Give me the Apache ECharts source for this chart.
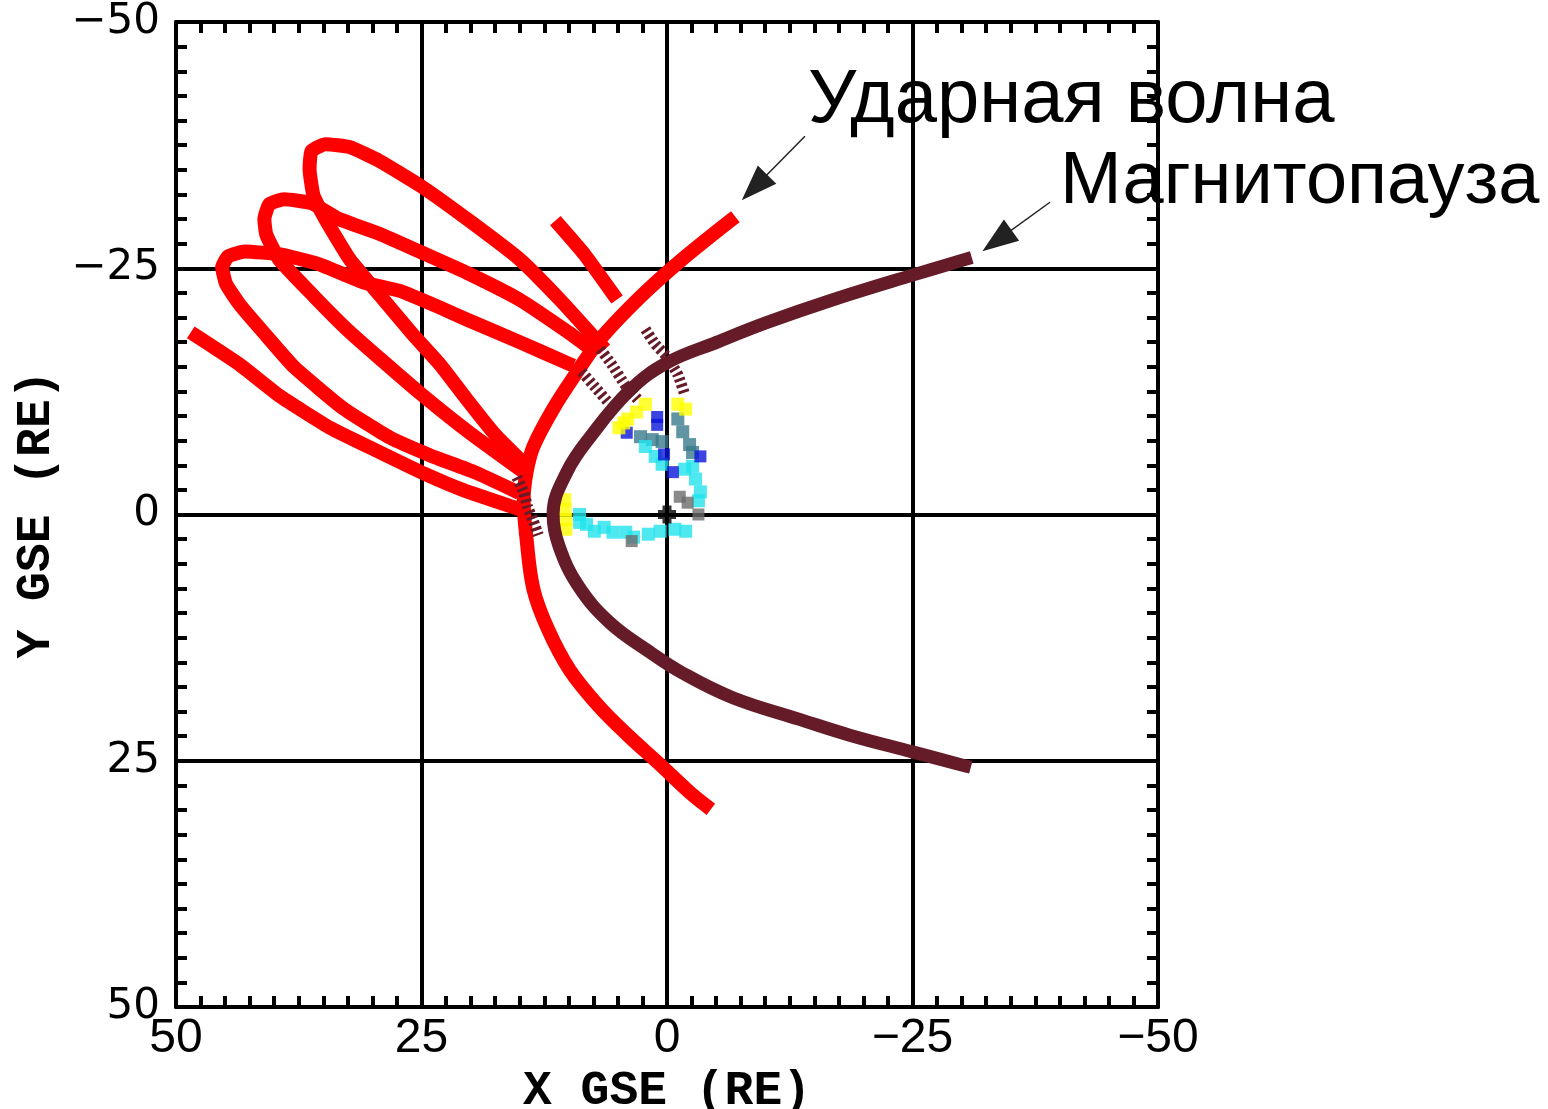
<!DOCTYPE html>
<html>
<head>
<meta charset="utf-8">
<script src="https://cdn.jsdelivr.net/npm/echarts@6/dist/echarts.min.js"></script>
<style>
  html, body { margin: 0; padding: 0; background: #ffffff; overflow: hidden; }
  #chart { position: absolute; left: 0; top: 0; width: 1548px; height: 1109px; }
</style>
</head>
<body>
<div id="chart"></div>
<script>
// Axis ticks (GSE, Earth radii)
const axisTicks = [-50, -25, 0, 25, 50];

// Model boundaries, [X, Y] in RE
const bowShock = [
  [-6.4, -29.8], [-1.3, -25.7], [2.7, -22.1], [6.8, -17.8],
  [9.2, -14.4], [11.6, -10.7], [13.6, -6.9], [14.3, -4.3], [14.6, -1.5],
  [14.3, 2.5], [13.6, 7.6], [12.1, 11.7], [9.9, 15.8], [7.0, 19.4],
  [4.0, 22.4], [0.7, 25.4], [-2.3, 28.2], [-3.9, 29.5]
];
const magnetopause = [
  [-30.4, -25.9], [-25.0, -24.3], [-16.9, -21.8], [-10.2, -19.5], [-5.1, -17.5],
  [0.0, -15.4], [3.8, -12.6], [7.8, -7.9], [10.2, -4.3],
  [11.6, 0.0], [11.0, 3.2], [9.0, 7.3], [5.8, 11.0], [1.7, 14.0],
  [-1.6, 16.1], [-6.7, 18.6], [-13.5, 20.8], [-18.6, 22.4], [-25.0, 24.1], [-30.3, 25.5]
];

// Spacecraft orbit, solar-wind parts
const orbitStart = [
  [47.9, -18.1], [43.5, -15.2], [39.4, -12.0], [34.3, -8.8], [29.2, -6.3],
  [24.6, -4.1], [20.8, -2.5], [15.5, -0.7]
];
const orbitLoopA = [
  [10.2, -15.4], [15.0, -17.5], [20.4, -19.8], [23.1, -21.0], [27.2, -22.7],
  [31.0, -23.6], [35.4, -25.4], [39.4, -26.4], [43.0, -26.7], [44.7, -26.2],
  [45.3, -25.1], [44.9, -23.4], [43.5, -21.3], [41.1, -18.5], [38.0, -15.0],
  [33.0, -10.8], [28.2, -7.8], [24.1, -6.0], [19.6, -4.3], [15.7, -2.5]
];
const orbitLoopB = [
  [8.0, -17.0], [10.2, -18.6], [15.0, -21.8], [20.1, -24.4], [25.0, -26.6],
  [29.3, -28.5], [33.4, -30.0], [36.2, -31.6], [39.0, -32.0], [40.5, -31.5],
  [41.0, -30.0], [40.8, -28.4], [39.5, -25.9], [36.0, -22.2], [32.6, -18.8],
  [29.2, -15.8], [25.0, -12.2], [20.1, -8.3], [15.0, -4.6]
];
const orbitLoopC = [
  [6.8, -17.3], [10.9, -21.8], [15.0, -25.9], [20.1, -29.8], [25.0, -33.3],
  [29.3, -35.9], [32.3, -37.3], [34.8, -37.6], [36.2, -36.9], [36.4, -35.1],
  [36.0, -32.4], [34.8, -30.0], [32.3, -25.9], [29.2, -22.2], [25.9, -18.3],
  [23.1, -15.2], [20.4, -11.7], [17.5, -8.1], [14.8, -5.4]
];
const orbitEnd = [[10.9, -29.3], [8.4, -26.4], [5.5, -22.4]];

// Orbit parts in the magnetosheath
const sheathA = [[2.2, -18.8], [1.2, -17.3], [0.0, -16.0], [-1.1, -14.2], [-1.8, -12.2]];
const sheathB = [[6.8, -16.8], [5.6, -15.2], [4.3, -13.2], [3.0, -11.7]];
const sheathC = [[8.7, -14.5], [7.3, -12.9], [6.0, -11.4]];
const sheathD = [[15.3, -3.8], [14.6, -2.3], [14.2, -0.8], [13.6, 0.7], [13.1, 2.1]];

// Orbit parts inside the magnetosphere, by region
const msYellow = [[4.9, -8.8], [4.4, -9.3], [4.0, -9.7], [3.1, -10.4], [2.2, -11.2],
                  [-1.1, -11.2], [-1.9, -10.7],
                  [10.4, -1.5], [10.4, -0.5], [10.3, 0.5], [10.3, 1.5]];
const msBlue = [[1.0, -9.9], [1.0, -9.1], [4.1, -8.3], [0.3, -6.1], [-0.6, -4.3], [-3.4, -5.9]];
const msTeal = [[-1.1, -9.7], [-1.6, -8.4], [-2.3, -7.1], [2.7, -7.9], [1.5, -7.6], [0.5, -7.4],
                [-2.6, -6.3]];
const msCyan = [[2.2, -6.9], [1.2, -5.9], [0.5, -5.1], [-1.8, -4.6], [-2.9, -3.6], [-3.4, -2.3],
                [-2.6, -4.9], [-3.2, -1.4],
                [8.9, 0.0], [8.9, 0.8], [8.2, 1.0], [7.4, 1.7], [6.4, 1.3], [5.5, 1.8], [4.2, 1.8],
                [3.4, 2.3], [1.9, 2.0], [0.7, 1.7], [-0.8, 1.5], [-1.9, 1.7]];
const msGray = [[-1.3, -1.8], [-2.1, -1.2], [-3.2, 0.0], [3.6, 2.7]];
const earth = [[0, 0]];

// Annotation arrows: [start, head]
const shockArrow = [[-14.05, -38.4], [-8.9, -33.2]];
const mpArrow = [[-39.0, -31.7], [-33.6, -27.8]];
const shockLabel = 'Ударная волна';
const mpLabel = 'Магнитопауза';

const RED = '#ff0000';
const MAROON = '#661b29';

function frameAxis(position, main, isX) {
  return {
    type: 'value',
    position: position,
    min: axisTicks[0],
    max: axisTicks[axisTicks.length - 1],
    interval: 25,
    inverse: true,
    axisLine: { show: true, onZero: false, lineStyle: { color: '#000', width: 4 } },
    axisTick: { show: true, inside: true, length: 11, lineStyle: { color: '#000', width: 4 } },
    minorTick: { show: true, splitNumber: 10, length: 11, lineStyle: { color: '#000', width: 4 } },
    splitLine: { show: main, lineStyle: { color: '#000', width: 4 } },
    axisLabel: main ? {
      show: true,
      margin: isX ? 8 : 16,
      color: '#000',
      fontFamily: isX ? 'Liberation Sans' : 'DejaVu Sans',
      fontSize: isX ? 48 : 42,
      showMinLabel: true,
      showMaxLabel: true,
      formatter: v => String(v).replace('-', '\u2212')
    } : { show: false },
    name: main ? (isX ? 'X GSE (RE)' : 'Y GSE (RE)') : '',
    nameLocation: 'middle',
    nameGap: isX ? 56 : 110,
    nameTextStyle: {
      fontFamily: 'Liberation Mono', fontSize: 48, fontWeight: 'bold', color: '#000'
    }
  };
}

function lineSeries(data, color, width, extra) {
  return Object.assign({
    type: 'line',
    data: data,
    showSymbol: false,
    symbol: 'none',
    smooth: 0.15,
    clip: false,
    silent: true,
    lineStyle: { color: color, width: width, cap: 'square', join: 'round' }
  }, extra || {});
}

function pointSeries(data, color, size, symbol) {
  return {
    type: 'scatter',
    data: data,
    symbol: symbol || 'rect',
    symbolSize: size,
    silent: true,
    itemStyle: { color: color }
  };
}

const sheathStyle = { lineStyle: { color: MAROON, width: 11, type: [3, 3] } };

const series = [
  lineSeries(orbitStart, RED, 14),
  lineSeries(orbitLoopA, RED, 14),
  lineSeries(orbitLoopB, RED, 14),
  lineSeries(orbitLoopC, RED, 14),
  lineSeries(orbitEnd, RED, 14),
  lineSeries(bowShock, RED, 14, {
    smooth: 0.35,
    markLine: {
      silent: true,
      symbol: ['none', 'triangle'],
      symbolSize: [26, 36],
      lineStyle: { color: '#222', width: 1.5, type: 'solid' },
      label: { show: false },
      data: [
        [{ coord: shockArrow[0] }, { coord: shockArrow[1] }],
        [{ coord: mpArrow[0] }, { coord: mpArrow[1] }]
      ],
      itemStyle: { color: '#000' }
    }
  }),
  lineSeries(magnetopause, MAROON, 13, { smooth: 0.4 }),
  lineSeries(sheathA, MAROON, 11, sheathStyle),
  lineSeries(sheathB, MAROON, 11, sheathStyle),
  lineSeries(sheathC, MAROON, 11, sheathStyle),
  lineSeries(sheathD, MAROON, 11, sheathStyle),
  pointSeries(msTeal, '#3a7a8c', 13),
  pointSeries(msCyan, '#22e4ec', 13),
  pointSeries(msBlue, '#0a14d8', 12),
  pointSeries(msYellow, '#ffff00', 13),
  pointSeries(msGray, '#6c6c6c', 12),
  pointSeries(earth, '#000',
    18, 'path://M3,0h2v12h-2zM7,0h2v12h-2zM0,3h12v2h-12zM0,7h12v2h-12z')
];

const chart = echarts.init(document.getElementById('chart'), null, { renderer: 'canvas' });
chart.setOption({
  animation: false,
  backgroundColor: '#ffffff',
  grid: {
    left: 176, right: 390, top: 22, bottom: 102,
    containLabel: false,
    outerBoundsMode: 'none'
  },
  xAxis: [frameAxis('bottom', true, true), frameAxis('top', false, true)],
  yAxis: [frameAxis('left', true, false), frameAxis('right', false, false)],
  series: series,
  graphic: [
    { type: 'text', x: 808, y: 101, silent: true,
      style: { text: shockLabel, font: '76px "Liberation Sans", Arial, sans-serif', fill: '#000',
               align: 'left', verticalAlign: 'middle' } },
    { type: 'text', x: 1060, y: 183, silent: true,
      style: { text: mpLabel, font: '74px "Liberation Sans", Arial, sans-serif', fill: '#000',
               align: 'left', verticalAlign: 'middle' } }
  ]
});
</script>
</body>
</html>
